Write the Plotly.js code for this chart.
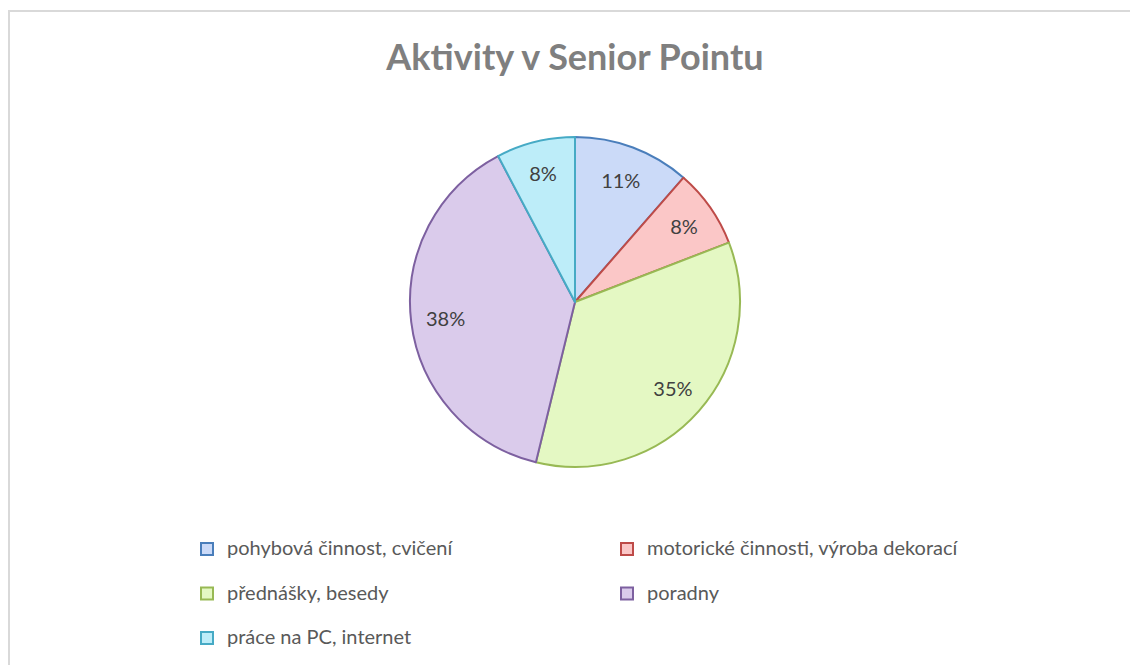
<!DOCTYPE html>
<html>
<head>
<meta charset="utf-8">
<script src="https://cdn.plot.ly/plotly-3.0.1.min.js"></script>
<style>
  html, body { margin: 0; padding: 0; background: #fff; }
  #chart { width: 1130px; height: 665px; }
</style>
</head>
<body>
<div id="chart"></div>
<script>
// Activity categories and their shares (%)
const activities = [
  "pohybová činnost, cvičení",
  "motorické činnosti, výroba dekorací",
  "přednášky, besedy",
  "poradny",
  "práce na PC, internet"
];
const shares = [11.4, 7.7, 34.6, 38.4, 7.7];

// slice fills and outlines (Excel 2010 style)
const fillColors = ["#cbdaf8", "#fbc7c7", "#e4f8c3", "#dacbeb", "#bdedf9"];
const lineColors = ["#4a7ebb", "#be4b48", "#98b954", "#7d60a0", "#46aac5"];

const W = 1130, H = 665;
const pieDomain = {
  x: [(575 - 165) / W, (575 + 165) / W],
  y: [(665 - 467) / H, (665 - 137) / H]
};

// legend labels: bigger text span, empty 2nd line to space the rows like Excel
const legendLabels = activities.map(
  (a) => "<span style='font-size:20px'>" + a + "</span><br> "
);

// the coloured pie itself (legend comes from here)
const pie = {
  type: "pie",
  labels: legendLabels,
  values: shares,
  sort: false,
  direction: "clockwise",
  rotation: 0,
  textinfo: "none",
  marker: {
    colors: fillColors,
    line: { color: lineColors, width: 2 }
  },
  domain: pieDomain,
  hoverinfo: "skip"
};

// transparent ring on top, only to put the % labels near the rim
const labelsRing = {
  type: "pie",
  labels: legendLabels,
  values: shares,
  sort: false,
  direction: "clockwise",
  rotation: 0,
  hole: 0.58,
  showlegend: false,
  texttemplate: "%{percent:.0%}",
  textposition: "inside",
  insidetextorientation: "horizontal",
  textfont: { family: "Lato, sans-serif", size: 20, color: "#404040" },
  marker: {
    colors: activities.map(() => "rgba(0,0,0,0)"),
    line: { width: 0 }
  },
  domain: pieDomain,
  hoverinfo: "skip"
};

const layout = {
  width: W,
  height: H,
  margin: { l: 0, r: 0, t: 0, b: 0, autoexpand: false },
  paper_bgcolor: "#ffffff",
  title: {
    text: "<b>Aktivity v Senior Pointu</b>",
    font: { family: "Lato, sans-serif", size: 36, color: "#7f7f7f" },
    x: 575 / W,
    xanchor: "center",
    y: 1 - 57 / H,
    yanchor: "middle",
    yref: "container"
  },
  showlegend: true,
  legend: {
    orientation: "h",
    x: 187 / W,
    xanchor: "left",
    y: 1 - 532 / H,
    yanchor: "top",
    entrywidth: 375,
    entrywidthmode: "pixels",
    valign: "top",
    traceorder: "normal",
    font: { family: "Lato, sans-serif", size: 16, color: "#595959" },
    bgcolor: "rgba(0,0,0,0)"
  },
  shapes: [
    {
      type: "rect",
      xref: "paper",
      yref: "paper",
      x0: 9 / W,
      x1: 1.02,
      y0: -0.02,
      y1: 1 - 11 / H,
      line: { color: "#d9d9d9", width: 2 },
      fillcolor: "rgba(0,0,0,0)"
    }
  ]
};

Plotly.newPlot("chart", [pie, labelsRing], layout, { displayModeBar: false, staticPlot: true });
</script>
</body>
</html>
